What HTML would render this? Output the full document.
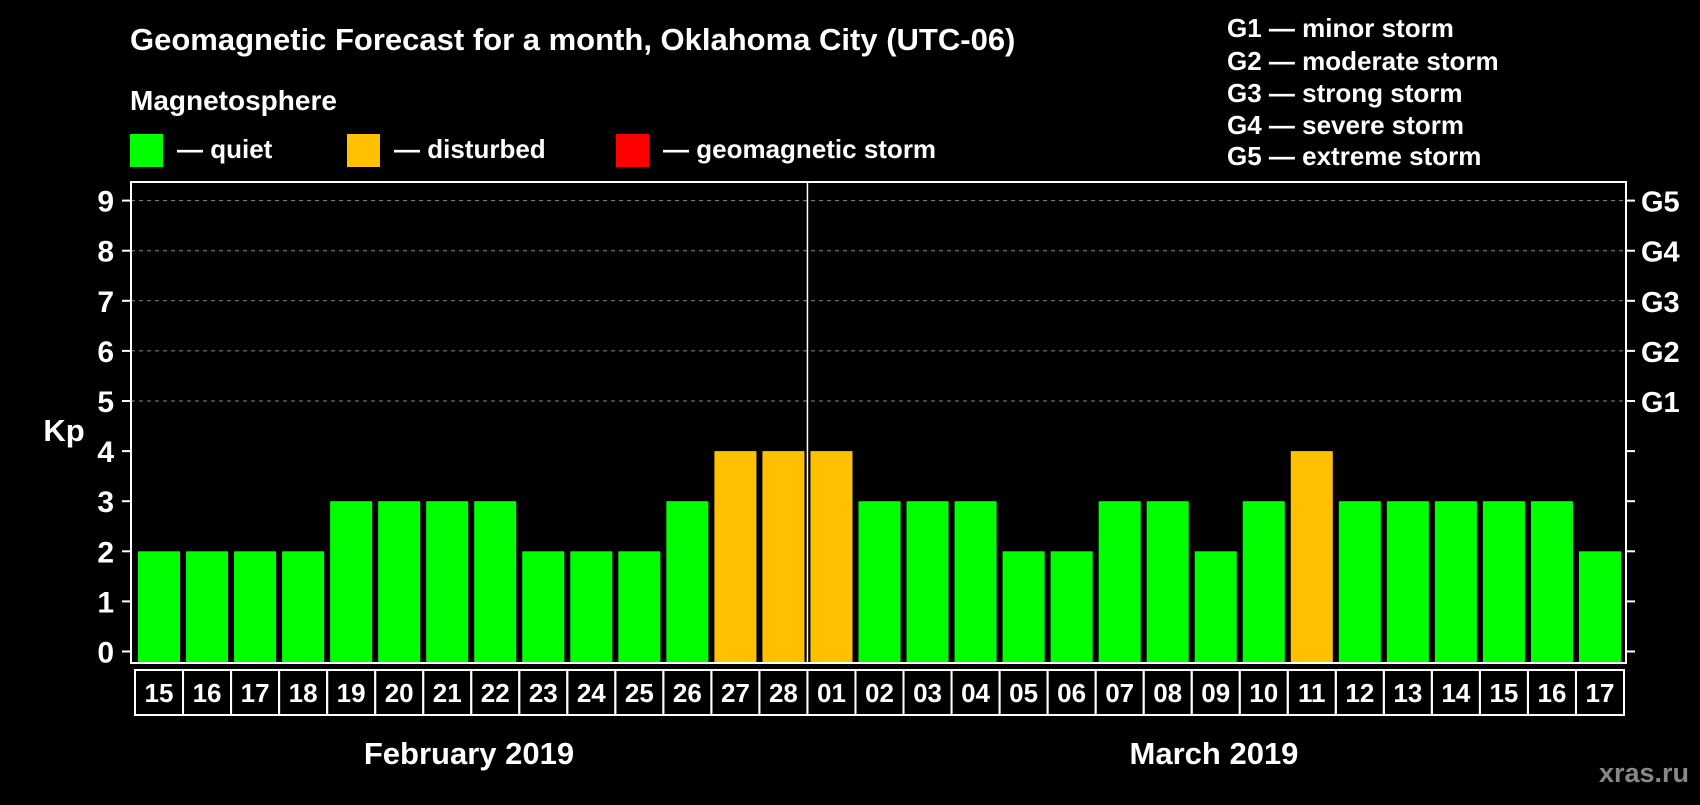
<!DOCTYPE html>
<html><head><meta charset="utf-8"><style>
body{margin:0;background:#000;width:1700px;height:800px;overflow:hidden}
svg text{font-family:"Liberation Sans",Arial,sans-serif;font-weight:bold;fill:#fff}
</style></head><body>
<svg id="chart" width="1700" height="800" xmlns="http://www.w3.org/2000/svg">
<text x="130" y="50" font-size="31">Geomagnetic Forecast for a month, Oklahoma City (UTC-06)</text>
<text x="130" y="110" font-size="28">Magnetosphere</text>
<rect x="130" y="134" width="33" height="33" fill="#00ff00"/>
<text x="177" y="158" font-size="26">— quiet</text>
<rect x="347" y="134" width="33" height="33" fill="#ffc000"/>
<text x="394" y="158" font-size="26">— disturbed</text>
<rect x="616" y="134" width="33" height="33" fill="#ff0000"/>
<text x="663" y="158" font-size="26">— geomagnetic storm</text>
<g font-size="26">
<text x="1227" y="37">G1 — minor storm</text>
<text x="1227" y="70">G2 — moderate storm</text>
<text x="1227" y="102">G3 — strong storm</text>
<text x="1227" y="134">G4 — severe storm</text>
<text x="1227" y="165">G5 — extreme storm</text>
</g>
<text x="64" y="441" font-size="31" text-anchor="middle">Kp</text>
<text x="469" y="764" font-size="31" text-anchor="middle">February 2019</text>
<text x="1214" y="764" font-size="31" text-anchor="middle">March 2019</text>
<text x="1689" y="782" font-size="27" text-anchor="end" style="fill:#888">xras.ru</text>
<g id="plot"></g>
</svg>
<script>
const days=["15","16","17","18","19","20","21","22","23","24","25","26","27","28","01","02","03","04","05","06","07","08","09","10","11","12","13","14","15","16","17"];
const kpValues=[2,2,2,2,3,3,3,3,2,2,2,3,4,4,4,3,3,3,2,2,3,3,2,3,4,3,3,3,3,3,2];
const yTicks=[0,1,2,3,4,5,6,7,8,9];
const gLabels=["G1","G2","G3","G4","G5"];
const gLevels=[5,6,7,8,9];
const monthSplit=14;

const L=131,R=1626,T=182,B=663,Y0=651.5,UNIT=50.1,PITCH=(R-L-6)/days.length;
const y=v=>Y0-v*UNIT;
const x=i=>L+7+i*PITCH;
const NS="http://www.w3.org/2000/svg";
const g=document.getElementById('plot');
function mk(t,a,txt){const e=document.createElementNS(NS,t);for(const k in a)e.setAttribute(k,a[k]);if(txt!=null)e.textContent=txt;g.appendChild(e);return e;}
yTicks.forEach(v=>{
  if(v>=5){const gl=mk('line',{x1:L,x2:R,y1:y(v),y2:y(v),stroke:'#888','stroke-dasharray':'4,4','stroke-width':1});
  
  }
  const t1=mk('line',{x1:L-9,x2:L,y1:y(v),y2:y(v),stroke:'#fff','stroke-width':2});
  
  
  const t2=mk('line',{x1:R,x2:R+9,y1:y(v),y2:y(v),stroke:'#fff','stroke-width':2});
  
  
  const lb=mk('text',{x:L-17,y:y(v)+11,'font-size':30,'text-anchor':'end'},String(v));
  
  
});
gLabels.forEach((s,i)=>{
  const lb=mk('text',{x:R+15,y:y(gLevels[i])+11,'font-size':29},s);
  
  
});
kpValues.forEach((v,i)=>{
  const c=v>=5?'#ff0000':(v>=4?'#ffc000':'#00ff00');
  const b=mk('rect',{x:x(i),y:y(v),width:PITCH-6,height:B-y(v),fill:c});
  
  
  const cell=mk('rect',{x:x(i)-3,y:670,width:PITCH,height:45,fill:'none',stroke:'#fff','stroke-width':2});
  
  
  const t=mk('text',{x:x(i)-3+PITCH/2,y:702,'font-size':26,'text-anchor':'middle'},days[i]);
  
  
});
const frame=mk('rect',{x:L,y:T,width:R-L,height:B-T,fill:'none',stroke:'#fff','stroke-width':2});


const dv=mk('line',{x1:x(monthSplit)-3,x2:x(monthSplit)-3,y1:T,y2:B,stroke:'#fff','stroke-width':1.5});


</script>
</body></html>
